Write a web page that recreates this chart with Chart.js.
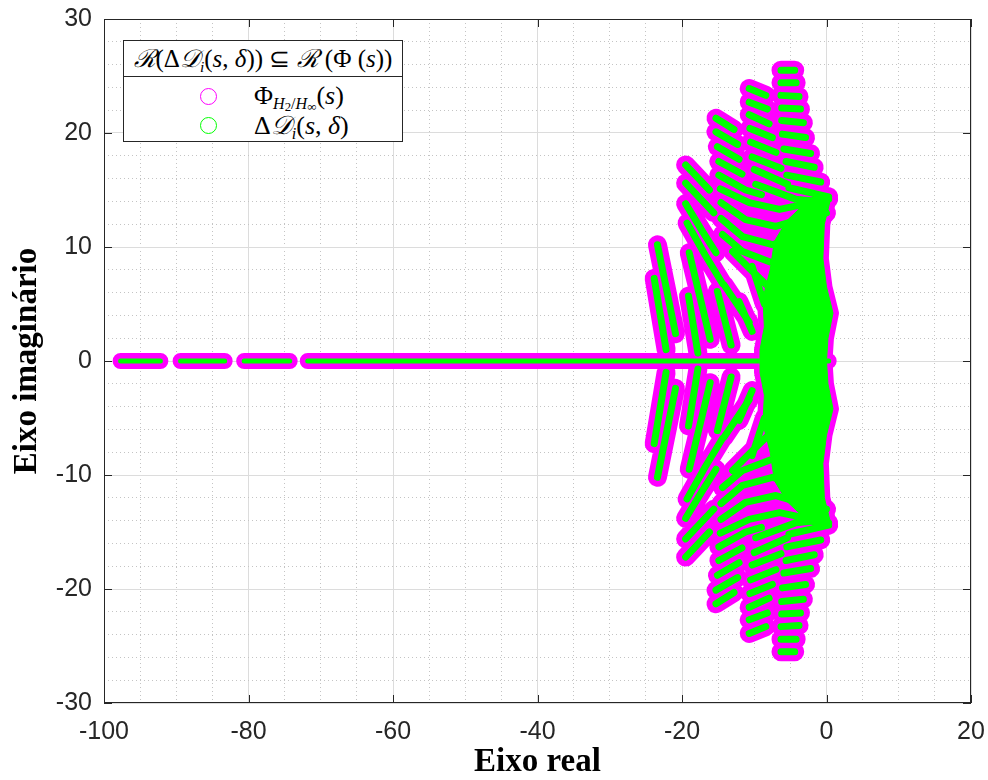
<!DOCTYPE html>
<html>
<head>
<meta charset="utf-8">
<script src="https://cdn.jsdelivr.net/npm/chart.js@4.4.1/dist/chart.umd.min.js"></script>
<style>
  body { margin: 0; background: #fff; }
  #wrap { position: relative; width: 988px; height: 780px; }
  #legend {
    position: absolute; left: 123px; top: 40px; width: 278px; height: 100px;
    border: 1px solid #262626; background: #fff;
    font-family: "Liberation Serif", serif; color: #000;
  }
  #legend .ltitle {
    position: absolute; left: 0; top: 0; width: 278px; height: 35px;
    border-bottom: 1px solid #262626; text-align: center;
    font-size: 25px; line-height: 35px; white-space: nowrap;
  }
  #legend .row { position: absolute; left: 0; width: 278px; height: 28px; font-size: 26px; line-height: 28px; white-space: nowrap; }
  #legend .mk { position: absolute; left: 76px; top: 6px; width: 15px; height: 15px; border-radius: 50%; border: 1.3px solid; }
  #legend .lt { position: absolute; left: 130px; top: 0; }
  .it { font-style: italic; }
  .cal { font-family: "DejaVu Serif", serif; font-style: italic; }
  sub { font-size: 62%; vertical-align: -0.3em; line-height: 0; }
  sub sub { font-size: 80%; vertical-align: -0.15em; }
</style>
</head>
<body>
<div id="wrap">
  <canvas id="roots" width="988" height="780"></canvas>
  <div id="legend">
    <div class="ltitle"><span class="cal">ℛ</span>(Δ<span class="cal">𝒟</span><sub class="it">i</sub>(<span class="it">s</span>, <span class="it">δ</span>)) ⊆ <span class="cal">ℛ</span> (Φ (<span class="it">s</span>))</div>
    <div class="row" style="top: 41px;"><span class="mk" style="border-color: #ff00ff;"></span><span class="lt">Φ<sub><span class="it">H</span><sub>2</sub>/<span class="it">H</span><sub>∞</sub></sub>(<span class="it">s</span>)</span></div>
    <div class="row" style="top: 70px;"><span class="mk" style="border-color: #00ff00;"></span><span class="lt">Δ<span class="cal">𝒟</span><sub class="it">i</sub>(<span class="it">s</span>, <span class="it">δ</span>)</span></div>
  </div>
</div>
<script>
const xTicks = [-100, -80, -60, -40, -20, 0, 20];
const yTicks = [-30, -20, -10, 0, 10, 20, 30];

// root clusters, as polylines [x, y]
const realAxis = [
  [[-97.7, 0], [-92.2, 0]],
  [[-89.4, 0], [-83.3, 0]],
  [[-80.6, 0], [-74.3, 0]],
  [[-71.8, 0], [0.3, 0]]
];

const ribsA = [
  [[-6.3, 25.5], [-4.4, 25.5]],
  [[-6.3, 24.4], [-4.2, 24.4]],
  [[-6.3, 23.3], [-3.8, 23.2]],
  [[-6.2, 22.2], [-3.6, 22.1]],
  [[-6.2, 21.1], [-3.2, 20.9]],
  [[-6.1, 19.9], [-2.9, 19.6]],
  [[-5.9, 18.6], [-2.2, 18.2]],
  [[-5.6, 17.5], [-1.7, 17.0]],
  [[-5.5, 16.3], [-0.8, 15.7]],
  [[-5.2, 15.2], [0.3, 14.4]],
  [[-6.3, -25.5], [-4.4, -25.5]],
  [[-6.3, -24.4], [-4.2, -24.4]],
  [[-6.3, -23.3], [-3.8, -23.2]],
  [[-6.2, -22.2], [-3.6, -22.1]],
  [[-6.2, -21.1], [-3.2, -20.9]],
  [[-6.1, -19.9], [-2.9, -19.6]],
  [[-5.9, -18.6], [-2.2, -18.2]],
  [[-5.6, -17.5], [-1.7, -17.0]],
  [[-5.5, -16.3], [-0.8, -15.7]],
  [[-5.2, -15.2], [0.3, -14.4]]
];

const ribsB = [
  [[-10.7, 23.9], [-8.4, 23.3]],
  [[-10.7, 22.7], [-8.2, 22.1]],
  [[-10.7, 21.6], [-7.95, 20.8]],
  [[-10.6, 20.4], [-7.5, 19.6]],
  [[-10.5, 19.2], [-7.0, 18.3]],
  [[-10.3, 17.9], [-6.3, 16.9]],
  [[-10.0, 16.8], [-5.4, 15.5]],
  [[-9.8, 15.5], [-4.3, 14.2], [-1.0, 14.0]],
  [[-10.7, -23.9], [-8.4, -23.3]],
  [[-10.7, -22.7], [-8.2, -22.1]],
  [[-10.7, -21.6], [-7.95, -20.8]],
  [[-10.6, -20.4], [-7.5, -19.6]],
  [[-10.5, -19.2], [-7.0, -18.3]],
  [[-10.3, -17.9], [-6.3, -16.9]],
  [[-10.0, -16.8], [-5.4, -15.5]],
  [[-9.8, -15.5], [-4.3, -14.2], [-1.0, -14.0]]
];

const ribsC = [
  [[-15.3, 21.3], [-12.8, 20.3]],
  [[-15.3, 20.1], [-12.3, 19.0]],
  [[-15.1, 18.8], [-12.1, 17.7]],
  [[-14.9, 17.5], [-11.7, 16.4]],
  [[-14.9, 16.3], [-11.2, 15.0], [-9.0, 14.6]],
  [[-15.3, -21.3], [-12.8, -20.3]],
  [[-15.3, -20.1], [-12.3, -19.0]],
  [[-15.1, -18.8], [-12.1, -17.7]],
  [[-14.9, -17.5], [-11.7, -16.4]],
  [[-14.9, -16.3], [-11.2, -15.0], [-9.0, -14.6]]
];

const arcsMid = [
  [[-14.7, 15.1], [-10.7, 13.9], [-6.5, 13.3], [-3.5, 13.7], [0.3, 14.2]],
  [[-14.6, 13.9], [-11.2, 12.4], [-7.0, 11.8], [-3.8, 12.4], [0.0, 13.0]],
  [[-14.6, 12.5], [-11.6, 10.9], [-7.5, 10.2], [-3.8, 10.8]],
  [[-14.4, 11.1], [-11.6, 9.6], [-7.9, 8.7]],
  [[-13.0, 9.6], [-10.3, 7.9], [-8.2, 6.6]],
  [[-14.7, -15.1], [-10.7, -13.9], [-6.5, -13.3], [-3.5, -13.7], [0.3, -14.2]],
  [[-14.6, -13.9], [-11.2, -12.4], [-7.0, -11.8], [-3.8, -12.4], [0.0, -13.0]],
  [[-14.6, -12.5], [-11.6, -10.9], [-7.5, -10.2], [-3.8, -10.8]],
  [[-14.4, -11.1], [-11.6, -9.6], [-7.9, -8.7]],
  [[-13.0, -9.6], [-10.3, -7.9], [-8.2, -6.6]]
];

const stripesD = [
  [[-19.5, 17.2], [-16.2, 15.0]],
  [[-19.5, 15.6], [-15.6, 13.0]],
  [[-19.5, 13.8], [-17.3, 11.5], [-15.3, 9.5]],
  [[-19.3, 12.1], [-16.8, 9.3], [-14.4, 6.8]],
  [[-19.5, -17.2], [-16.2, -15.0]],
  [[-19.5, -15.6], [-15.6, -13.0]],
  [[-19.5, -13.8], [-17.3, -11.5], [-15.3, -9.5]],
  [[-19.3, -12.1], [-16.8, -9.3], [-14.4, -6.8]]
];

const stripesLow = [
  [[-23.4, 10.2], [-20.9, 2.4]],
  [[-23.85, 7.25], [-22.2, 1.0]],
  [[-19.0, 9.5], [-16.1, 1.9]],
  [[-19.1, 5.7], [-17.8, 0.7]],
  [[-15.1, 6.1], [-13.2, 1.4]],
  [[-14.2, 6.7], [-10.7, 3.4]],
  [[-12.1, 5.2], [-10.3, 2.6]],
  [[-10.3, 8.3], [-8.6, 5.0]],
  [[-23.4, -10.2], [-20.9, -2.4]],
  [[-23.85, -7.25], [-22.2, -1.0]],
  [[-19.0, -9.5], [-16.1, -1.9]],
  [[-19.1, -5.7], [-17.8, -0.7]],
  [[-15.1, -6.1], [-13.2, -1.4]],
  [[-14.2, -6.7], [-10.7, -3.4]],
  [[-12.1, -5.2], [-10.3, -2.6]],
  [[-10.3, -8.3], [-8.6, -5.0]]
];

// dense core near the imaginary axis
const core = [
  [0.6, 14.3], [-0.3, 12], [-0.5, 9], [0, 6.5], [0.9, 4.2], [0.2, 2], [0, 0],
  [0.2, -2], [0.9, -4.2], [0, -6.5], [-0.5, -9], [-0.3, -12], [0.6, -14.3],
  [-1.5, -14.6], [-3, -13.8], [-5.5, -12.3], [-7.2, -10.5], [-7.8, -8], [-8.8, -5.5],
  [-8.6, -3], [-9.2, -1], [-9.2, 1], [-8.6, 3], [-8.8, 5.5], [-7.8, 8], [-7.2, 10.5],
  [-5.5, 12.3], [-3, 13.8], [-1.5, 14.6], [0.6, 14.3]
];

const MAGENTA = '#ff00ff';
const GREEN = '#00ff00';

function toLine(polys) {
  const out = [];
  polys.forEach(p => {
    p.forEach(([x, y]) => out.push({x: x, y: y}));
    out.push({x: null, y: null});
  });
  return out;
}

const allStripes = [].concat(ribsA, ribsB, ribsC, arcsMid, stripesD, stripesLow);
const corePts = core.map(([x, y]) => ({x: x, y: y}));

function lineSet(data, color, width, order, extra) {
  return Object.assign({
    type: 'line', data: data, borderColor: color, borderWidth: width,
    borderCapStyle: 'round', borderJoinStyle: 'round', pointRadius: 0,
    pointHitRadius: 0, tension: 0, spanGaps: false, fill: false, order: order
  }, extra || {});
}

const frame = {
  id: 'frame',
  afterDatasetsDraw(chart) {
    const {ctx, chartArea: a, scales} = chart;
    ctx.save();
    ctx.strokeStyle = '#262626';
    ctx.lineWidth = 1;
    ctx.beginPath();
    xTicks.forEach(v => {
      const px = Math.round(scales.x.getPixelForValue(v)) + 0.5;
      ctx.moveTo(px, a.bottom); ctx.lineTo(px, a.bottom - 8);
      ctx.moveTo(px, a.top); ctx.lineTo(px, a.top + 8);
    });
    yTicks.forEach(v => {
      const py = Math.round(scales.y.getPixelForValue(v)) + 0.5;
      ctx.moveTo(a.left, py); ctx.lineTo(a.left + 8, py);
      ctx.moveTo(a.right, py); ctx.lineTo(a.right - 8, py);
    });
    ctx.stroke();
    ctx.strokeRect(Math.round(a.left) + 0.5, Math.round(a.top) + 0.5,
      Math.round(a.right - a.left) - 1, Math.round(a.bottom - a.top) - 1);
    ctx.restore();
  }
};

const gridColor = major => major ? '#dcdcdc' : '#c4c4c4';

new Chart('roots', {
  type: 'line',
  data: {
    datasets: [
      lineSet(corePts, GREEN, 1, 1, {fill: 'shape', backgroundColor: GREEN}),
      lineSet(toLine(allStripes), GREEN, 7, 1),
      lineSet(toLine(realAxis), GREEN, 5, 1),
      lineSet(corePts, MAGENTA, 12, 3, {fill: 'shape', backgroundColor: MAGENTA}),
      lineSet(toLine(allStripes), MAGENTA, 19, 3),
      lineSet(toLine(realAxis), MAGENTA, 16, 3)
    ]
  },
  options: {
    responsive: false,
    devicePixelRatio: 1,
    animation: false,
    events: [],
    layout: { padding: { left: 0, right: 17, top: 19, bottom: 0 } },
    plugins: { legend: { display: false }, tooltip: { enabled: false } },
    scales: {
      x: {
        type: 'linear', min: -100, max: 20,
        afterFit(s) { s.height = 77; s.paddingLeft = 0; s.paddingRight = 0; },
        ticks: {
          stepSize: 5, maxTicksLimit: 100, autoSkip: false, maxRotation: 0, padding: 14,
          color: '#262626', font: { family: 'Liberation Sans', size: 25 },
          callback: v => xTicks.includes(v) ? String(v) : ''
        },
        grid: {
          drawTicks: false,
          color: c => gridColor(xTicks.includes(c.tick.value)),
          lineWidth: 1
        },
        border: { display: false, dash: c => xTicks.includes(c.tick.value) ? [] : [1, 3] },
        title: {
          display: true, text: 'Eixo real', color: '#000',
          font: { family: 'Liberation Serif', size: 33, weight: 'bold' },
          padding: { top: 0, bottom: -2 }
        }
      },
      y: {
        type: 'linear', min: -30, max: 30,
        afterFit(s) { s.width = 104; s.paddingTop = 0; s.paddingBottom = 0; },
        ticks: {
          stepSize: 2, maxTicksLimit: 100, autoSkip: false, padding: 12,
          color: '#262626', font: { family: 'Liberation Sans', size: 25 },
          callback: v => yTicks.includes(v) ? String(v) : ''
        },
        grid: {
          drawTicks: false,
          color: c => gridColor(yTicks.includes(c.tick.value)),
          lineWidth: 1
        },
        border: { display: false, dash: c => yTicks.includes(c.tick.value) ? [] : [1, 3] },
        title: {
          display: true, text: 'Eixo imaginário', color: '#000',
          font: { family: 'Liberation Serif', size: 33, weight: 'bold' },
          padding: { top: 8, bottom: 0 }
        }
      }
    }
  },
  plugins: [frame]
});
</script>
</body>
</html>
